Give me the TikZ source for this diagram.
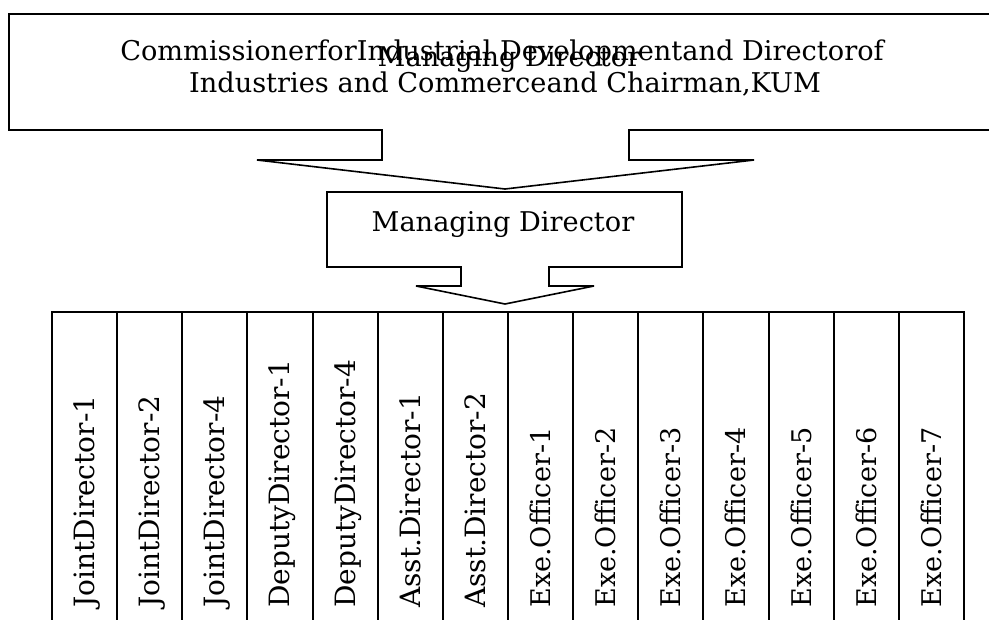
\documentclass[tikz,border=0pt]{standalone}
\usepackage{fontspec}
\setmainfont{DejaVu Serif}
\begin{document}
\begin{tikzpicture}[x=0.75pt,y=-0.75pt,
  shapeline/.style={draw=black,line width=1.2pt,line join=miter},
  colbox/.style={draw=black,line width=1.5pt,minimum width=48.85pt,minimum height=246pt,inner sep=0pt},
  bigtxt/.style={font=\fontsize{20.4}{24}\selectfont,inner sep=0pt,align=center},
  coltxt/.style={font=\fontsize{21}{24}\selectfont,inner sep=0pt,rotate=90,anchor=base west},
  exetxt/.style={font=\fontsize{20.3}{24}\selectfont,inner sep=0pt,rotate=90,anchor=base west}]
\clip (0,0) rectangle (989,619);
\fill[white] (0,0) rectangle (989,619);
% top callout
\draw[shapeline] (9,14) -- (1000,14) -- (1000,130) -- (629,130) -- (629,160) -- (754,160)
  -- (505,189) -- (257,160) -- (382,160) -- (382,130) -- (9,130) -- cycle;
\node[bigtxt,anchor=base] (top1) at (502,60) {CommissionerforIndustrial Developmentand Directorof};
\node[bigtxt,anchor=base] (top2) at (505,92) {Industries and Commerceand Chairman,KUM};
\node[bigtxt,anchor=base] (over) at (509,66) {Managing Director};
% managing director callout
\draw[shapeline] (327,192) -- (682,192) -- (682,267) -- (549,267) -- (549,286) -- (594,286)
  -- (505,304) -- (416,286) -- (461,286) -- (461,267) -- (327,267) -- cycle;
\node[bigtxt,anchor=base] (md) at (503,231) {Managing Director};
% columns
\foreach \i/\t in {0/JointDirector-1,1/JointDirector-2,2/JointDirector-4,3/DeputyDirector-1,4/DeputyDirector-4,5/Asst.Director-1,6/Asst.Director-2}{
  \node[colbox] (c\i) at ({52+65.14*\i+32.57},476) {};
  \node[coltxt] (t\i) at ({52+65.14*\i+32.57+10},608) {\t};
}
\foreach \i/\t in {7/Exe.Officer-1,8/Exe.Officer-2,9/Exe.Officer-3,10/Exe.Officer-4,11/Exe.Officer-5,12/Exe.Officer-6,13/Exe.Officer-7}{
  \node[colbox] (c\i) at ({52+65.14*\i+32.57},476) {};
  \node[exetxt] (t\i) at ({52+65.14*\i+32.57+10},608) {\t};
}
\end{tikzpicture}
\end{document}
